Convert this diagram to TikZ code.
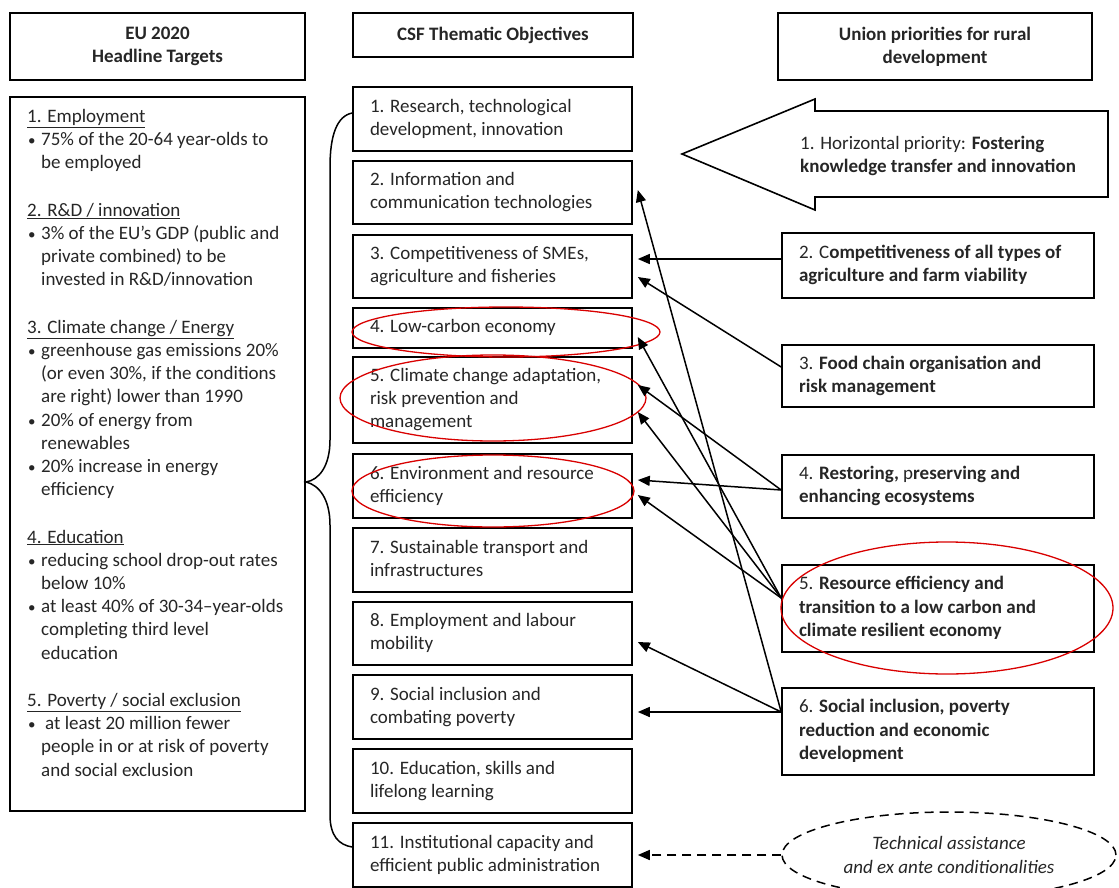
\documentclass[tikz,border=0pt]{standalone}
\usepackage{fontspec}
\setmainfont{Carlito}
\usetikzlibrary{calc,arrows.meta,shapes.geometric}
\newcommand\otext[1]{\makebox[245pt][l]{\begin{tabular}{@{}l@{}}#1\end{tabular}}}
\newcommand\ptext[1]{\makebox[278pt][l]{\begin{tabular}{@{}l@{}}#1\end{tabular}}}
\newcommand\bul{\makebox[14pt][l]{\hspace{1pt}{\fontsize{15}{15}\selectfont\textbullet}}}
\newcommand\cnt{\hspace*{14pt}}
\begin{document}
\begin{tikzpicture}[x=1pt,y=-1pt,
  every node/.style={font=\fontsize{19}{23.2}\selectfont, inner sep=0pt, text=black!85},
  hbox/.style={draw=black, line width=1.9pt, align=center, font=\fontsize{19}{23.2}\selectfont\bfseries},
  obox/.style={draw=black, line width=1.6pt, minimum width=279pt, inner xsep=17pt},
  pbox/.style={draw=black, line width=1.6pt, minimum width=312pt, inner xsep=17pt},
  arr/.style={line width=1.5pt, -{Triangle[length=12pt,width=10pt]}},
  dasharr/.style={line width=1.5pt, dash pattern=on 9pt off 6pt, -{Triangle[length=12pt,width=10pt]}},
  redell/.style={draw=red!85!black, line width=1.3pt},
]
\useasboundingbox (0,0) rectangle (1119,888);
\fill[white] (0,0) rectangle (1119,888);

% headers
\node[hbox, minimum width=295pt, minimum height=67pt] (h1) at (157.5,46.5) {EU 2020\\Headline Targets};
\node[hbox, minimum width=280pt, minimum height=44pt] (h2) at (493,35) {CSF Thematic Objectives};
\node[hbox, minimum width=314pt, minimum height=67pt] (h3) at (935,46.5) {Union priorities for rural\\development};

% left box
\node[draw=black, line width=1.6pt, minimum width=295pt, minimum height=714pt] (lbox) at (157.5,454) {};
\node[anchor=base west] (ltext) at (27,122.5) {\begin{tabular}[t]{@{}l@{}}
\underline{1. Employment}\\
\bul 75\% of the 20-64 year-olds to\\
\cnt be employed\\
\\[1pt]
\underline{2. R\&D / innovation}\\
\bul 3\% of the EU's GDP (public and\\
\cnt private combined) to be\\
\cnt invested in R\&D/innovation\\
\\[1pt]
\underline{3. Climate change / Energy}\\
\bul greenhouse gas emissions 20\%\\
\cnt (or even 30\%, if the conditions\\
\cnt are right) lower than 1990\\
\bul 20\% of energy from\\
\cnt renewables\\
\bul 20\% increase in energy\\
\cnt efficiency\\
\\[1pt]
\underline{4. Education}\\
\bul reducing school drop-out rates\\
\cnt below 10\%\\
\bul at least 40\% of 30-34--year-olds\\
\cnt completing third level\\
\cnt education\\
\\[1pt]
\underline{5. Poverty / social exclusion}\\
\bul\hspace{4pt}at least 20 million fewer\\
\cnt people in or at risk of poverty\\
\cnt and social exclusion
\end{tabular}};

% middle boxes
\node[obox, minimum height=64pt] (o1) at (492.5,119) {\otext{1. Research, technological\\development, innovation}};
\node[obox, minimum height=63pt] (o2) at (492.5,192.5) {\otext{2. Information and\\communication technologies}};
\node[obox, minimum height=63pt] (o3) at (492.5,266.5) {\otext{3. Competitiveness of SMEs,\\agriculture and fisheries}};
\node[obox, minimum height=40pt] (o4) at (492.5,328) {\otext{4. Low-carbon economy}};
\node[obox, minimum height=86pt] (o5) at (492.5,400) {\otext{5. Climate change adaptation,\\risk prevention and\\management}};
\node[obox, minimum height=64pt] (o6) at (492.5,486) {\otext{6. Environment and resource\\efficiency}};
\node[obox, minimum height=64pt] (o7) at (492.5,560) {\otext{7. Sustainable transport and\\infrastructures}};
\node[obox, minimum height=63pt] (o8) at (492.5,633.5) {\otext{8. Employment and labour\\mobility}};
\node[obox, minimum height=64pt] (o9) at (492.5,707) {\otext{9. Social inclusion and\\combating poverty}};
\node[obox, minimum height=64pt] (o10) at (492.5,781) {\otext{10. Education, skills and\\lifelong learning}};
\node[obox, minimum height=64pt] (o11) at (492.5,855) {\otext{11. Institutional capacity and\\efficient public administration}};

% brace
\draw[line width=1.5pt] ($(o1.west)+(0,-6)$) .. controls (337,116) and (330,135) .. (330,167)
  -- (330,440) .. controls (330,466) and (319,480) .. (306,482)
  .. controls (319,485) and (330,499) .. (330,525)
  -- (330,815) .. controls (330,836) and (339,845) .. ($(o11.west)+(0,-8)$);

% priority 1 arrow shape
\draw[line width=1.6pt] (682,154) -- (815,99) -- (815,111) -- (1108,111) -- (1108,197)
  -- (815,197) -- (815,210) -- cycle;
\node[anchor=west] (p1) at (800,156) {\ptext{1. Horizontal priority: \textbf{Fostering}\\\textbf{knowledge transfer and innovation}}};

% right boxes
\node[pbox, minimum height=65pt] (p2) at (938,265.5) {\ptext{2. C\textbf{ompetitiveness of all types of}\\\textbf{agriculture and farm viability}}};
\node[pbox, minimum height=62pt] (p3) at (938,376) {\ptext{3. \textbf{Food chain organisation and}\\\textbf{risk management}}};
\node[pbox, minimum height=63pt] (p4) at (938,486.5) {\ptext{4. \textbf{Restoring,} p\textbf{reserving and}\\\textbf{enhancing ecosystems}}};
\node[pbox, minimum height=87pt] (p5) at (938,608.5) {\ptext{5. \textbf{Resource efficiency and}\\\textbf{transition to a low carbon and}\\\textbf{climate resilient economy}}};
\node[pbox, minimum height=87pt] (p6) at (938,731.5) {\ptext{6. \textbf{Social inclusion, poverty}\\\textbf{reduction and economic}\\\textbf{development}}};

% technical assistance
\node[ellipse, draw=black, line width=1.5pt, dash pattern=on 9pt off 6pt, minimum width=334pt, minimum height=86pt, align=center, font=\fontsize{19}{23.2}\selectfont\itshape] (ta) at (949,855) {Technical assistance\\and ex ante conditionalities};

% red ellipses
\draw[redell] (506,332) ellipse [x radius=154pt, y radius=25pt];
\draw[redell] (493,398) ellipse [x radius=153pt, y radius=43pt];
\draw[redell] (493,491) ellipse [x radius=141pt, y radius=36pt];
\draw[redell] (947,608) ellipse [x radius=166pt, y radius=66pt];

% connectors
\draw[arr] ($(p2.west)+(0,-6.5)$) -- ($(o3.east)+(5,-7.5)$);
\draw[arr] ($(p3.west)+(0,-9)$) -- ($(o3.east)+(5,10.5)$);
\draw[arr] ($(p4.west)+(0,3.5)$) -- ($(o5.east)+(5,-15)$);
\draw[arr] ($(p4.west)+(0,3.5)$) -- ($(o6.east)+(5,-6)$);
\draw[arr] ($(p5.west)+(0,-10.5)$) -- ($(o4.east)+(5,9)$);
\draw[arr] ($(p5.west)+(0,-10.5)$) -- ($(o5.east)+(5,12)$);
\draw[arr] ($(p5.west)+(0,-10.5)$) -- ($(o6.east)+(5,9)$);
\draw[arr] ($(p6.west)+(0,-19.5)$) -- ($(o2.east)+(5,-2.5)$);
\draw[arr] ($(p6.west)+(0,-19.5)$) -- ($(o8.east)+(5,8.5)$);
\draw[arr] ($(p6.west)+(0,-19.5)$) -- ($(o9.east)+(5,5)$);
\draw[dasharr] (ta.west) -- ($(o11.east)+(5,0)$);
\end{tikzpicture}
\end{document}
